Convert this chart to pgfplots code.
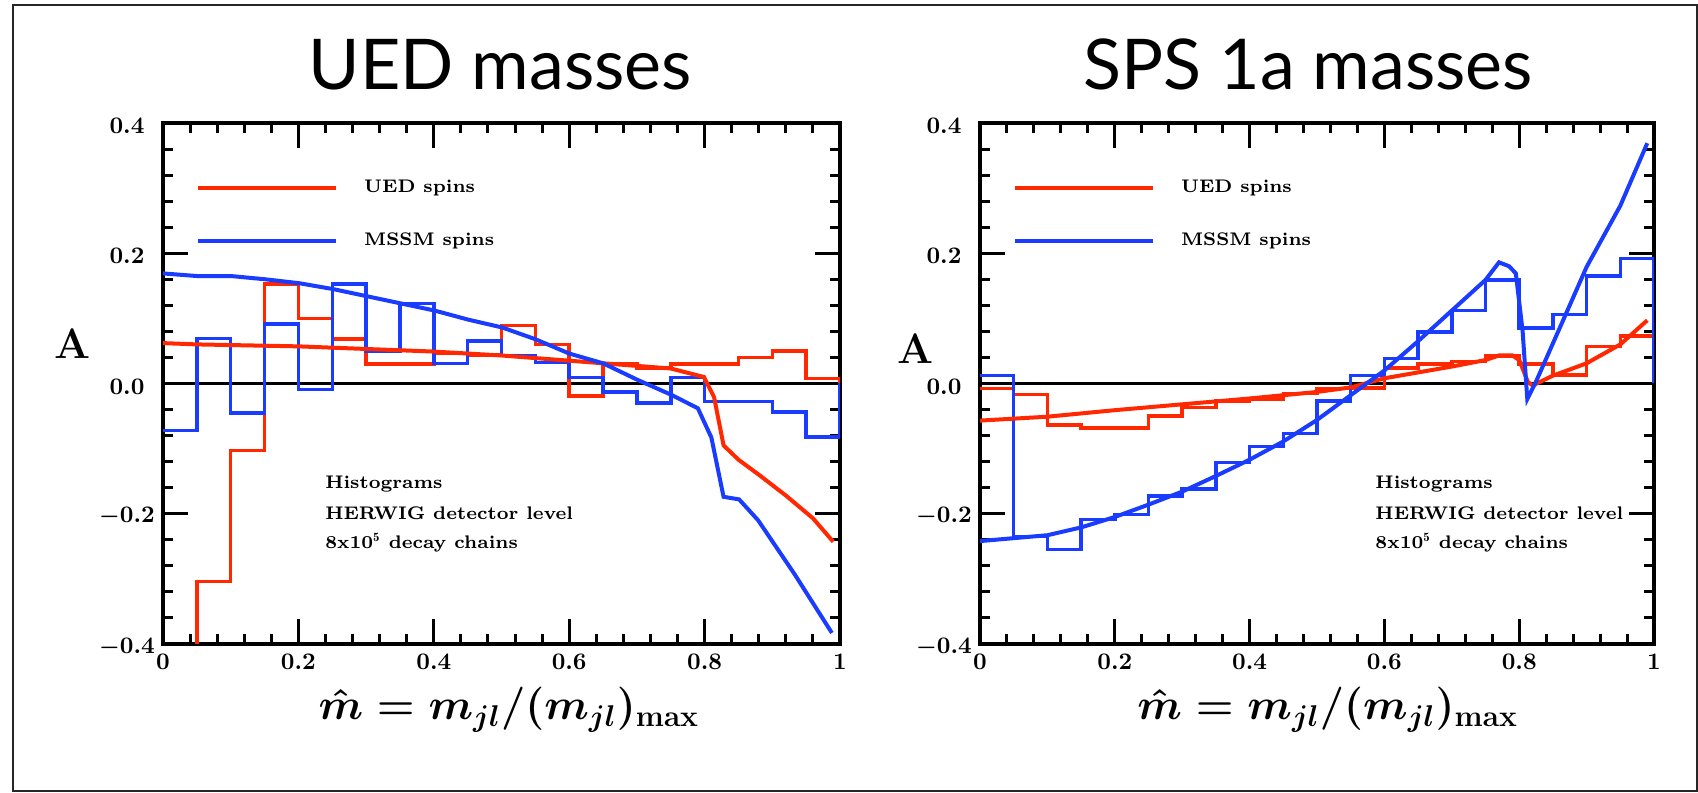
\documentclass[border=0pt]{standalone}
\usepackage{fontspec}
\usepackage{pgfplots}
\pgfplotsset{compat=1.18}
\newfontfamily\titlefont{Lato}
\definecolor{ured}{RGB}{255,40,0}
\definecolor{ublue}{RGB}{25,60,255}
\tikzset{ann/.style={anchor=base west, font=\fontsize{7.3}{7.3}\selectfont\bfseries, inner sep=0pt}}
\pgfplotsset{
  myax/.style={
    scale only axis, width=270.8pt, height=208.4pt,
    anchor=south west,
    xmin=0, xmax=1, ymin=-0.4, ymax=0.4,
    xtick={0,0.2,0.4,0.6,0.8,1},
    xticklabels={\textbf{0},\textbf{0.2},\textbf{0.4},\textbf{0.6},\textbf{0.8},\textbf{1}},
    ytick={-0.4,-0.2,0,0.2,0.4},
    yticklabels={{\boldmath$-$}\textbf{0.4},{\boldmath$-$}\textbf{0.2},\textbf{0.0},\textbf{0.2},\textbf{0.4}},
    minor x tick num=4, minor y tick num=4,
    tick align=inside, xtick pos=both, ytick pos=both,
    major tick length=10pt, minor tick length=4pt,
    axis line style={line width=1.6pt},
    every tick/.style={black, line width=1.2pt},
    ticklabel style={font=\fontsize{9.5}{9.5}\selectfont\bfseries\boldmath, inner sep=0pt},
    xticklabel style={anchor=center, yshift=-7.2pt},
    yticklabel style={anchor=center, xshift=-14.4pt, yshift=-1.2pt},
    xlabel={\smash{$\hat{m} = m_{jl}/(m_{jl})_{\mathbf{max}}$}},
    label style={font=\fontsize{17}{17}\selectfont\boldmath\bfseries, inner sep=0pt},
    ylabel={A},
    title style={font=\titlefont\fontsize{28}{28}\selectfont, anchor=base, yshift=7.2pt},
    clip mode=individual,
    legend style={draw=none, fill=none, inner sep=0pt, outer sep=0pt,
      at={(axis cs:0.049,0.2595)}, anchor=west,
      row sep=14.5pt, column sep=10.4pt,
      font=\fontsize{7.3}{7.3}\selectfont\bfseries,
      nodes={inner sep=0pt}},
    legend cell align=left,
    legend image code/.code={\draw[#1] (0pt,0pt) -- (55.2pt,0pt);},
  },
  hist/.style={const plot mark left, line width=1.4pt, no marks, forget plot},
  curve/.style={line width=1.6pt, no marks},
}
\begin{document}
\begin{tikzpicture}
\useasboundingbox (0,0) rectangle (679.2pt,317.2pt);
\draw[line width=0.8pt, black!85] (5.2pt,0.8pt) rectangle (678.8pt,315.2pt);

% ---------------- Left: UED masses ----------------
\begin{axis}[myax, at={(65.2pt,59.6pt)},
  title={UED masses}, title style={at={(axis description cs:0.498,1)}},
  xlabel style={at={(axis description cs:0.511,0)}, anchor=base, yshift=-30.4pt},
  ylabel style={rotate=-90, at={(axis description cs:-0.134,0.576)}, anchor=center},
]
\addplot[black, line width=1.2pt, forget plot] coordinates {(0,0) (1,0)};
% red histogram (UED spins)
\addplot[ured, hist] table {
x y
0.00 -0.600
0.05 -0.304
0.10 -0.103
0.15 0.153
0.20 0.100
0.25 0.068
0.30 0.030
0.35 0.030
0.40 0.046
0.45 0.044
0.50 0.089
0.55 0.060
0.60 -0.019
0.65 0.031
0.70 0.024
0.75 0.030
0.80 0.030
0.85 0.040
0.90 0.050
0.95 0.008
1.00 0.008
1.00 0.000
};
% blue histogram (MSSM spins)
\addplot[ublue, hist] table {
x y
0.00 -0.072
0.05 0.069
0.10 -0.045
0.15 0.091
0.20 -0.009
0.25 0.153
0.30 0.050
0.35 0.123
0.40 0.031
0.45 0.065
0.50 0.043
0.55 0.032
0.60 0.009
0.65 -0.013
0.70 -0.030
0.75 0.009
0.80 -0.028
0.85 -0.028
0.90 -0.044
0.95 -0.082
1.00 -0.082
1.00 0.000
};
% red curve
\addplot[ured, curve] table {
x y
0.00 0.062
0.05 0.060
0.10 0.059
0.15 0.058
0.20 0.057
0.25 0.055
0.30 0.053
0.35 0.051
0.40 0.049
0.45 0.046
0.50 0.043
0.55 0.039
0.60 0.035
0.65 0.031
0.70 0.027
0.75 0.023
0.799 0.010
0.814 -0.021
0.828 -0.095
0.85 -0.117
0.88 -0.140
0.92 -0.172
0.96 -0.207
0.99 -0.243
};
\addlegendentry{UED spins}
% blue curve
\addplot[ublue, curve] table {
x y
0.000 0.169
0.050 0.165
0.100 0.165
0.151 0.160
0.201 0.154
0.251 0.145
0.301 0.134
0.351 0.123
0.401 0.112
0.451 0.098
0.501 0.086
0.550 0.068
0.600 0.046
0.650 0.031
0.700 0.006
0.750 -0.017
0.790 -0.038
0.810 -0.083
0.828 -0.174
0.851 -0.178
0.879 -0.210
0.933 -0.293
0.988 -0.383
};
\addlegendentry{MSSM spins}
\node[ann] at (axis cs:0.239,-0.162) {Histograms};
\node[ann] at (axis cs:0.239,-0.209) {HERWIG detector level};
\node[ann] at (axis cs:0.239,-0.254) {8x10$^{\mathbf{5}}$ decay chains};
\end{axis}

% ---------------- Right: SPS 1a masses ----------------
\begin{axis}[myax, at={(392pt,59.6pt)}, width=269.6pt,
  title={SPS 1a masses}, title style={at={(axis description cs:0.487,1)}},
  xlabel style={at={(axis description cs:0.516,0)}, anchor=base, yshift=-30.4pt},
  ylabel style={rotate=-90, at={(axis description cs:-0.096,0.566)}, anchor=center},
]
\addplot[black, line width=1.2pt, forget plot] coordinates {(0,0) (1,0)};
\addplot[ured, hist] table {
x y
0.00 -0.008
0.05 -0.017
0.10 -0.064
0.15 -0.068
0.20 -0.068
0.25 -0.050
0.30 -0.037
0.35 -0.027
0.40 -0.024
0.45 -0.015
0.50 -0.008
0.55 -0.007
0.60 0.024
0.65 0.030
0.70 0.034
0.75 0.042
0.80 0.030
0.85 0.013
0.90 0.057
0.95 0.073
1.00 0.073
1.00 0.000
};
\addplot[ublue, hist] table {
x y
0.00 0.012
0.05 -0.235
0.10 -0.255
0.15 -0.209
0.20 -0.201
0.25 -0.173
0.30 -0.162
0.35 -0.121
0.40 -0.097
0.45 -0.077
0.50 -0.027
0.55 0.012
0.60 0.038
0.65 0.079
0.70 0.112
0.75 0.159
0.80 0.085
0.85 0.106
0.90 0.165
0.95 0.192
1.00 0.192
1.00 0.000
};
\addplot[ured, curve] table {
x y
0.00 -0.057
0.10 -0.051
0.20 -0.041
0.30 -0.032
0.40 -0.023
0.50 -0.013
0.55 -0.006
0.60 0.008
0.65 0.017
0.70 0.026
0.75 0.036
0.77 0.043
0.79 0.043
0.80 0.036
0.813 0.002
0.820 -0.003
0.85 0.012
0.90 0.031
0.95 0.060
0.99 0.097
};
\addlegendentry{UED spins}
\addplot[ublue, curve] table {
x y
0.00 -0.242
0.10 -0.233
0.15 -0.221
0.20 -0.205
0.25 -0.186
0.30 -0.166
0.35 -0.142
0.40 -0.117
0.45 -0.089
0.50 -0.056
0.55 -0.018
0.60 0.020
0.65 0.065
0.70 0.112
0.75 0.159
0.77 0.186
0.785 0.180
0.795 0.169
0.805 0.081
0.812 -0.024
0.825 0.003
0.86 0.085
0.90 0.179
0.95 0.273
0.99 0.369
};
\addlegendentry{MSSM spins}
\node[ann] at (axis cs:0.586,-0.162) {Histograms};
\node[ann] at (axis cs:0.586,-0.209) {HERWIG detector level};
\node[ann] at (axis cs:0.586,-0.254) {8x10$^{\mathbf{5}}$ decay chains};
\end{axis}
\end{tikzpicture}
\end{document}
